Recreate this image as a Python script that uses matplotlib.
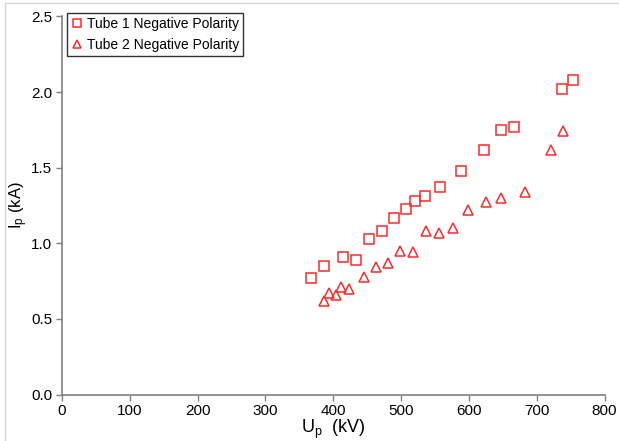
import matplotlib
matplotlib.use('Agg')
import matplotlib.pyplot as plt
from matplotlib.patches import Rectangle

plt.rcParams['font.family'] = ['Liberation Sans', 'DejaVu Sans']
plt.rcParams['mathtext.default'] = 'regular'

# ── data ──────────────────────────────────────────────────────
tube1_u = [367, 387, 414, 434, 453, 472, 489, 508, 521, 535, 558, 588, 622, 647, 667, 738, 754]
tube1_i = [0.77, 0.85, 0.91, 0.89, 1.03, 1.08, 1.17, 1.23, 1.28, 1.31, 1.37, 1.48, 1.62, 1.75, 1.77, 2.02, 2.08]

tube2_u = [387, 394, 404, 412, 423, 445, 463, 480, 499, 518, 537, 556, 577, 599, 625, 648, 683, 721, 739]
tube2_i = [0.62, 0.67, 0.66, 0.71, 0.70, 0.78, 0.84, 0.87, 0.95, 0.94, 1.08, 1.07, 1.10, 1.22, 1.27, 1.30, 1.34, 1.62, 1.74]

RED = '#ff2a2a'
GREY = '#808080'

fig = plt.figure(figsize=(6.19, 4.41), dpi=100)
ax = fig.add_axes([62 / 619, 1 - 394.5 / 441, (604.5 - 62) / 619, (394.5 - 16.5) / 441])

# light outer frame
fig.patches.append(Rectangle((5 / 619, -0.05), 1.2, 1.05 - 2.5 / 441,
                             transform=fig.transFigure, fill=False,
                             edgecolor='#d4d4d4', linewidth=1))

ax.plot(tube1_u, tube1_i, linestyle='none', marker='s', markersize=6.5,
        markerfacecolor='none', markeredgecolor=RED, markeredgewidth=1.1,
        label='Tube 1 Negative Polarity')
ax.plot(tube2_u, tube2_i, linestyle='none', marker='^', markersize=6.5,
        markerfacecolor='none', markeredgecolor=RED, markeredgewidth=1.1,
        label='Tube 2 Negative Polarity')

ax.set_xlim(0, 800)
ax.set_ylim(0, 2.5)
ax.set_xticks(range(0, 801, 100))
ax.set_yticks([0, 0.5, 1.0, 1.5, 2.0, 2.5])
ax.set_yticklabels(['0.0', '0.5', '1.0', '1.5', '2.0', '2.5'])

for s in ['top', 'right']:
    ax.spines[s].set_visible(False)
for s in ['left', 'bottom']:
    ax.spines[s].set_color(GREY)
    ax.spines[s].set_linewidth(1.2)
ax.tick_params(direction='out', length=4, width=1, color=GREY,
               labelsize=11, pad=3)

ax.set_xlabel('U$_p$  (kV)', fontsize=13, labelpad=0)
ax.set_ylabel('I$_p$ (kA)', fontsize=12, labelpad=1)

leg = ax.legend(loc='upper left', bbox_to_anchor=(0.01, 1.01), fontsize=10,
                frameon=True, fancybox=False, handlelength=0.8,
                handletextpad=0.3, borderpad=0.3, labelspacing=0.5,
                borderaxespad=0, markerscale=0.9)
leg.get_frame().set_edgecolor('black')
leg.get_frame().set_linewidth(1)

fig.savefig('out.png', dpi=100)
plt.close()
